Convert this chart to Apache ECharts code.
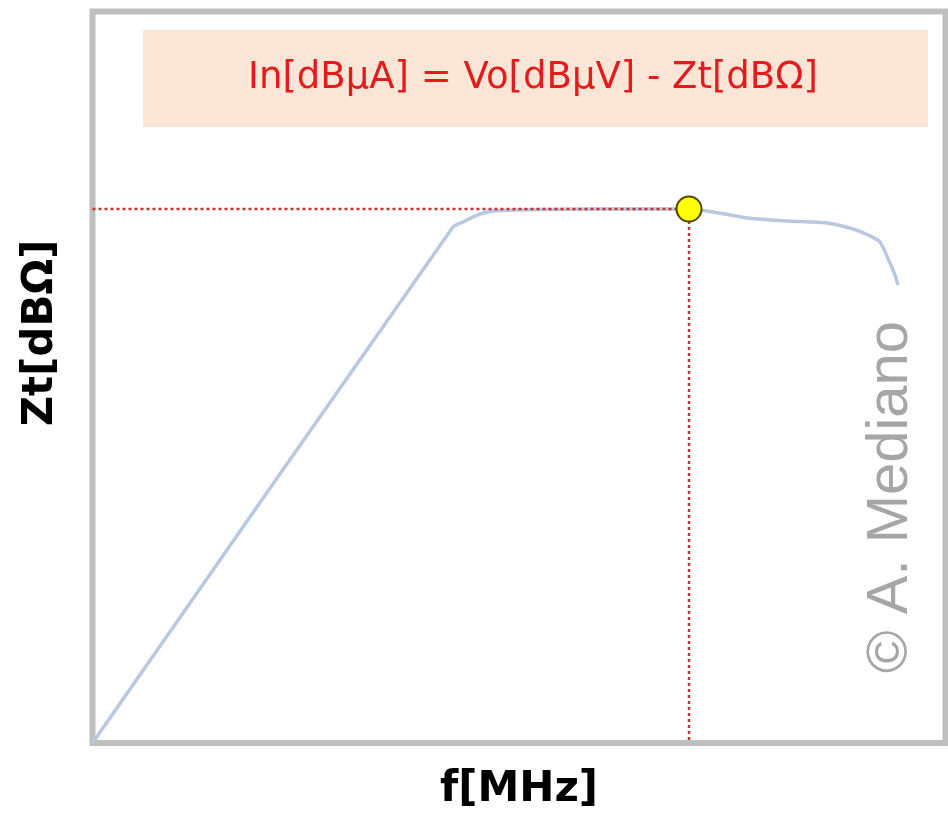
<!DOCTYPE html>
<html>
<head>
<meta charset="utf-8">
<script src="https://cdn.jsdelivr.net/npm/echarts@6/dist/echarts.min.js"></script>
<style>
  html, body { margin: 0; padding: 0; background: #ffffff; }
  #chart { width: 948px; height: 815px; }
</style>
</head>
<body>
<div id="chart"></div>
<script>
// Frequency (relative units) and transimpedance (relative dB)
const freq = [0, 42.26, 43.43, 44.84, 46.25, 47.77, 52.46, 59.50, 69.93, 72.04, 74.74, 76.73, 81.42, 86.11, 89.15, 90.91, 92.32, 93.49, 94.08, 94.43];
const zt   = [0, 70.54, 71.22, 72.04, 72.59, 72.80, 72.93, 73.00, 73.00, 72.73, 72.18, 71.77, 71.36, 71.09, 70.27, 69.45, 68.49, 65.62, 63.98, 62.61];
const operatingPoint = [69.93, 73.00];
const xAxisName = 'f[MHz]';
const yAxisName = 'Zt[dBΩ]';
const formulaText = 'In[dBμA] = Vo[dBμV] - Zt[dBΩ]';
const watermark = '© A. Mediano';

const curve = freq.map((f, i) => [f, zt[i]]);

const chart = echarts.init(document.getElementById('chart'), null, { renderer: 'canvas' });
chart.setOption({
  backgroundColor: '#ffffff',
  animation: false,
  grid: {
    left: 92.5, right: 2.5, top: 11.5, bottom: 72,
    outerBoundsMode: 'none', containLabel: false,
    show: true, borderColor: '#bfbfbf', borderWidth: 6, backgroundColor: 'transparent'
  },
  xAxis: {
    type: 'value', min: 0, max: 100,
    axisLine: { show: false }, axisTick: { show: false }, axisLabel: { show: false }, splitLine: { show: false },
    name: xAxisName, nameLocation: 'middle', nameGap: 26,
    nameTextStyle: { fontFamily: 'DejaVu Sans', fontWeight: 'bold', fontSize: 42, color: '#000000' }
  },
  yAxis: {
    type: 'value', min: 0, max: 100,
    axisLine: { show: false }, axisTick: { show: false }, axisLabel: { show: false }, splitLine: { show: false }
  },
  series: [
    {
      type: 'line', data: curve, smooth: 0.2, showSymbol: false, z: 2,
      lineStyle: { color: '#b7c8df', width: 3.5 }
    },
    {
      type: 'line', data: [[0, operatingPoint[1]], operatingPoint], showSymbol: false, z: 3,
      lineStyle: { color: '#c83232', width: 2.5, type: [3, 3] }
    },
    {
      type: 'line', data: [operatingPoint, [operatingPoint[0], 0]], showSymbol: false, z: 3,
      lineStyle: { color: '#c83232', width: 2.5, type: [3, 3] }
    },
    {
      type: 'scatter', data: [operatingPoint], symbolSize: 25, z: 5,
      itemStyle: { color: '#ffff00', borderColor: '#4d4500', borderWidth: 2, opacity: 1 }
    }
  ],
  graphic: [
    {
      type: 'rect', z: 1,
      shape: { x: 143, y: 30, width: 785, height: 97 },
      style: { fill: '#fbe5d6' }
    },
    {
      type: 'text', z: 10, x: 533, y: 78,
      style: {
        text: formulaText, fill: '#e31b1b',
        font: '37px "DejaVu Sans"', textAlign: 'center', textVerticalAlign: 'middle'
      }
    },
    {
      type: 'text', z: 10, x: 41, y: 333, rotation: Math.PI / 2,
      style: {
        text: yAxisName, fill: '#000000',
        font: 'bold 42px "DejaVu Sans"', textAlign: 'center', textVerticalAlign: 'middle'
      }
    },
    {
      type: 'text', z: 10, x: 891, y: 497, rotation: Math.PI / 2,
      style: {
        text: watermark, fill: '#a6a6a6',
        font: '58px "Liberation Sans"', textAlign: 'center', textVerticalAlign: 'middle'
      }
    }
  ]
});
</script>
</body>
</html>
